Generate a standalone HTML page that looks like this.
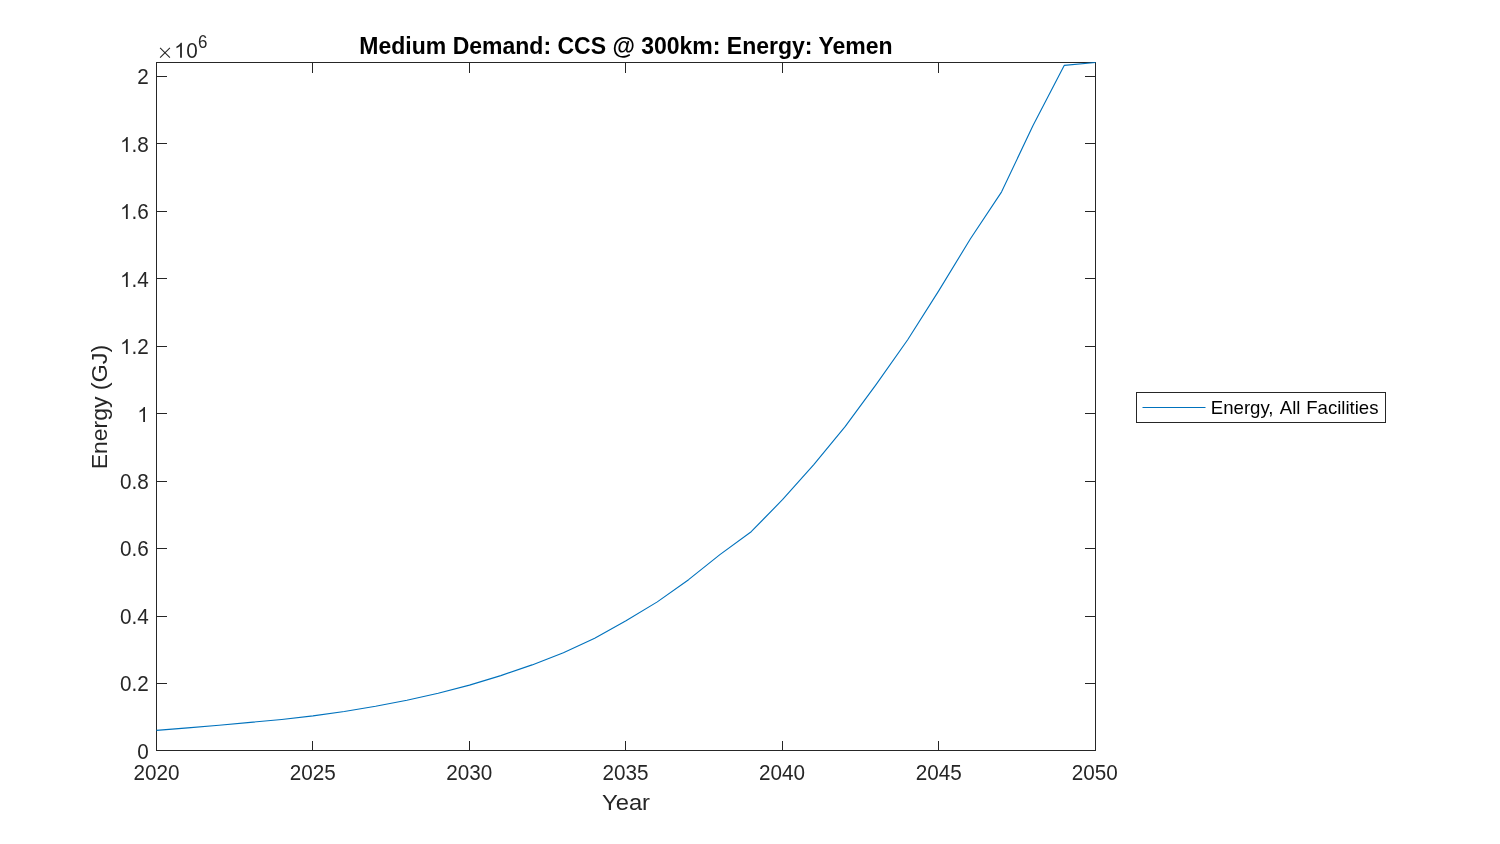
<!DOCTYPE html>
<html><head><meta charset="utf-8"><title>Medium Demand: CCS @ 300km: Energy: Yemen</title>
<style>
html,body{margin:0;padding:0;background:#fff;}
body{width:1500px;height:844px;overflow:hidden;font-family:"Liberation Sans",sans-serif;}
svg{display:block;will-change:transform;}
text{font-family:"Liberation Sans",sans-serif;}
</style></head><body>
<svg width="1500" height="844" viewBox="0 0 1500 844">
<rect x="0" y="0" width="1500" height="844" fill="#ffffff"/>
<g stroke="#262626" stroke-width="1" fill="none" shape-rendering="crispEdges">
<rect x="156.5" y="62.5" width="939" height="688"/>
<line x1="312.5" y1="750.5" x2="312.5" y2="740.5"/>
<line x1="312.5" y1="62.5" x2="312.5" y2="72.5"/>
<line x1="469.5" y1="750.5" x2="469.5" y2="740.5"/>
<line x1="469.5" y1="62.5" x2="469.5" y2="72.5"/>
<line x1="625.5" y1="750.5" x2="625.5" y2="740.5"/>
<line x1="625.5" y1="62.5" x2="625.5" y2="72.5"/>
<line x1="782.5" y1="750.5" x2="782.5" y2="740.5"/>
<line x1="782.5" y1="62.5" x2="782.5" y2="72.5"/>
<line x1="938.5" y1="750.5" x2="938.5" y2="740.5"/>
<line x1="938.5" y1="62.5" x2="938.5" y2="72.5"/>
<line x1="156.5" y1="683.5" x2="166.5" y2="683.5"/>
<line x1="1095.5" y1="683.5" x2="1084.5" y2="683.5"/>
<line x1="156.5" y1="616.5" x2="166.5" y2="616.5"/>
<line x1="1095.5" y1="616.5" x2="1084.5" y2="616.5"/>
<line x1="156.5" y1="548.5" x2="166.5" y2="548.5"/>
<line x1="1095.5" y1="548.5" x2="1084.5" y2="548.5"/>
<line x1="156.5" y1="481.5" x2="166.5" y2="481.5"/>
<line x1="1095.5" y1="481.5" x2="1084.5" y2="481.5"/>
<line x1="156.5" y1="413.5" x2="166.5" y2="413.5"/>
<line x1="1095.5" y1="413.5" x2="1084.5" y2="413.5"/>
<line x1="156.5" y1="346.5" x2="166.5" y2="346.5"/>
<line x1="1095.5" y1="346.5" x2="1084.5" y2="346.5"/>
<line x1="156.5" y1="278.5" x2="166.5" y2="278.5"/>
<line x1="1095.5" y1="278.5" x2="1084.5" y2="278.5"/>
<line x1="156.5" y1="211.5" x2="166.5" y2="211.5"/>
<line x1="1095.5" y1="211.5" x2="1084.5" y2="211.5"/>
<line x1="156.5" y1="143.5" x2="166.5" y2="143.5"/>
<line x1="1095.5" y1="143.5" x2="1084.5" y2="143.5"/>
<line x1="156.5" y1="76.5" x2="166.5" y2="76.5"/>
<line x1="1095.5" y1="76.5" x2="1084.5" y2="76.5"/>
</g>
<g fill="#262626" font-size="20.7px">
<text transform="translate(156.50,779.90) scale(0.958,1.0)" font-size="21.6px" fill="#262626" text-anchor="middle" >2020</text>
<text transform="translate(312.80,779.90) scale(0.958,1.0)" font-size="21.6px" fill="#262626" text-anchor="middle" >2025</text>
<text transform="translate(469.22,779.90) scale(0.958,1.0)" font-size="21.6px" fill="#262626" text-anchor="middle" >2030</text>
<text transform="translate(625.58,779.90) scale(0.958,1.0)" font-size="21.6px" fill="#262626" text-anchor="middle" >2035</text>
<text transform="translate(781.94,779.90) scale(0.958,1.0)" font-size="21.6px" fill="#262626" text-anchor="middle" >2040</text>
<text transform="translate(938.85,779.90) scale(0.958,1.0)" font-size="21.6px" fill="#262626" text-anchor="middle" >2045</text>
<text transform="translate(1094.66,779.90) scale(0.958,1.0)" font-size="21.6px" fill="#262626" text-anchor="middle" >2050</text>
<text transform="translate(137.29,758.80) scale(0.958,1)" font-size="21.6px" fill="#262626">0</text>
<text transform="translate(120.04,691.00) scale(0.958,1)" font-size="21.6px" fill="#262626">0.2</text>
<text transform="translate(120.04,624.00) scale(0.958,1)" font-size="21.6px" fill="#262626">0.4</text>
<text transform="translate(120.04,556.00) scale(0.958,1)" font-size="21.6px" fill="#262626">0.6</text>
<text transform="translate(120.04,489.00) scale(0.958,1)" font-size="21.6px" fill="#262626">0.8</text>
<path transform="translate(137.29,422.00) scale(0.010104,0.010209)" d="M763 0H583V-1147Q518 -1085 412.5 -1023Q307 -961 223 -930V-1104Q374 -1175 487 -1276Q600 -1377 647 -1472H763Z" fill="#262626"/>
<path transform="translate(120.04,354.00) scale(0.010104,0.010209)" d="M763 0H583V-1147Q518 -1085 412.5 -1023Q307 -961 223 -930V-1104Q374 -1175 487 -1276Q600 -1377 647 -1472H763Z" fill="#262626"/><text transform="translate(131.54,354.00) scale(0.958,1)" font-size="21.6px" fill="#262626">.2</text>
<path transform="translate(120.04,287.00) scale(0.010104,0.010209)" d="M763 0H583V-1147Q518 -1085 412.5 -1023Q307 -961 223 -930V-1104Q374 -1175 487 -1276Q600 -1377 647 -1472H763Z" fill="#262626"/><text transform="translate(131.54,287.00) scale(0.958,1)" font-size="21.6px" fill="#262626">.4</text>
<path transform="translate(120.04,219.00) scale(0.010104,0.010209)" d="M763 0H583V-1147Q518 -1085 412.5 -1023Q307 -961 223 -930V-1104Q374 -1175 487 -1276Q600 -1377 647 -1472H763Z" fill="#262626"/><text transform="translate(131.54,219.00) scale(0.958,1)" font-size="21.6px" fill="#262626">.6</text>
<path transform="translate(120.04,152.00) scale(0.010104,0.010209)" d="M763 0H583V-1147Q518 -1085 412.5 -1023Q307 -961 223 -930V-1104Q374 -1175 487 -1276Q600 -1377 647 -1472H763Z" fill="#262626"/><text transform="translate(131.54,152.00) scale(0.958,1)" font-size="21.6px" fill="#262626">.8</text>
<text transform="translate(137.29,84.00) scale(0.958,1)" font-size="21.6px" fill="#262626">2</text>
</g>
<path d="M160.1 47.9L169.9 57.7M169.9 47.9L160.1 57.7" stroke="#262626" stroke-width="1.05" fill="none"/>
<path transform="translate(174.20,57.80) scale(0.010104,0.010209)" d="M763 0H583V-1147Q518 -1085 412.5 -1023Q307 -961 223 -930V-1104Q374 -1175 487 -1276Q600 -1377 647 -1472H763Z" fill="#262626"/>
<text transform="translate(186.25,57.90) scale(0.925,1.0)" font-size="22.4px" fill="#262626" text-anchor="start" >0</text>
<text transform="translate(198.00,47.80) scale(0.94,1.0)" font-size="18px" fill="#262626" text-anchor="start" >6</text>
<text x="626" y="53.8" text-anchor="middle" font-size="23px" font-weight="bold" fill="#000">Medium Demand: CCS @ 300km: Energy: Yemen</text>
<text transform="translate(626.00,810.20) scale(1.04,1.0)" font-size="22.85px" fill="#262626" text-anchor="middle" >Year</text>
<text transform="translate(106.8,469.3) rotate(-90) scale(1.026,1)" font-size="22.4px" fill="#262626">Energy</text>
<text transform="translate(106.8,390.2) rotate(-90) scale(1.047,1)" font-size="22.4px" fill="#262626">(GJ)</text>
<polyline points="156.50,730.35 187.80,727.87 219.10,725.21 250.40,722.40 281.70,719.45 313.00,715.88 344.30,711.47 375.60,706.28 406.90,700.29 438.20,693.27 469.50,685.12 500.80,675.60 532.10,664.90 563.40,652.70 594.70,638.20 626.00,620.85 657.30,601.87 688.60,579.68 719.90,554.60 751.20,531.68 782.50,499.70 813.80,464.60 845.10,426.70 876.40,384.20 907.70,339.70 939.00,290.40 970.30,239.00 1001.60,191.85 1032.90,125.70 1064.20,65.43 1095.50,62.55" fill="none" stroke="#0072BD" stroke-width="1.12" stroke-linejoin="round"/>
<rect x="1136.5" y="392.5" width="249" height="30" fill="#fff" stroke="#262626" stroke-width="1" shape-rendering="crispEdges"/>
<line x1="1142.5" y1="407.5" x2="1205.5" y2="407.5" stroke="#0072BD" stroke-width="1"/>
<text y="413.7" font-size="18.6px" fill="#000"><tspan x="1210.8">Energy,</tspan><tspan x="1279.8">All</tspan><tspan x="1306.2">Facilities</tspan></text>
</svg>
</body></html>
